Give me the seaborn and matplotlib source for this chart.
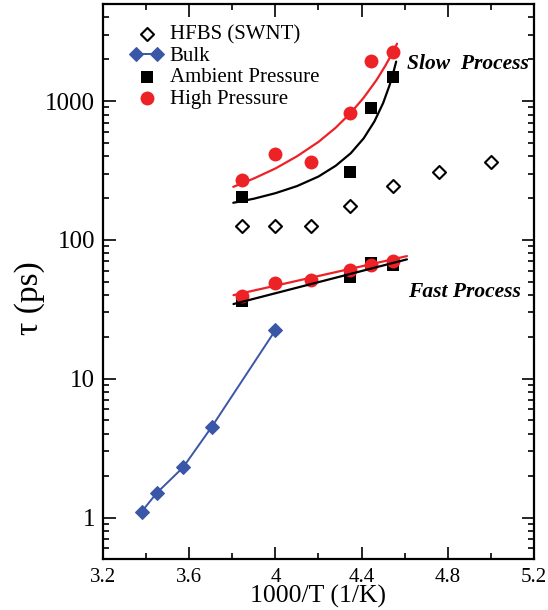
import numpy as np
import pandas as pd
import matplotlib
matplotlib.use("Agg")
import matplotlib.pyplot as plt
import matplotlib.ticker as mticker
from matplotlib.legend_handler import HandlerLine2D
import seaborn as sns

# x = 1000/T (1/K), tau in ps
hfbs_x = [3.846, 4.0, 4.167, 4.348, 4.545, 4.762, 5.0]
hfbs_tau = [126, 126, 126, 175, 245, 306, 364]

bulk_x = [3.378, 3.448, 3.571, 3.704, 4.0]
bulk_tau = [1.1, 1.5, 2.3, 4.5, 22.4]

amb_slow_x = [3.846, 4.348, 4.444, 4.545]
amb_slow_tau = [205, 310, 890, 1500]
hp_slow_x = [3.846, 4.0, 4.167, 4.348, 4.444, 4.545]
hp_slow_tau = [272, 413, 362, 816, 1940, 2250]

amb_fast_x = [3.846, 4.348, 4.444, 4.545]
amb_fast_tau = [36.4, 54.2, 67.7, 65.9]
hp_fast_x = [3.846, 4.0, 4.167, 4.348, 4.444, 4.545]
hp_fast_tau = [39.6, 49.1, 51.4, 60.6, 65.9, 70.8]

# fitted curves
amb_slow_fit_x = [3.804, 3.90, 4.00, 4.10, 4.20, 4.28, 4.35, 4.41, 4.46, 4.50, 4.53, 4.545, 4.561]
amb_slow_fit_tau = [185, 198, 217, 244, 286, 342, 421, 539, 714, 965, 1296, 1547, 1925]
hp_slow_fit_x = [3.804, 3.90, 4.00, 4.10, 4.20, 4.28, 4.35, 4.41, 4.47, 4.51, 4.54, 4.565]
hp_slow_fit_tau = [241, 277, 327, 400, 508, 643, 823, 1057, 1420, 1790, 2170, 2590]
amb_fast_fit_x = [3.805, 4.611]
amb_fast_fit_tau = [34.5, 72.4]
hp_fast_fit_x = [3.805, 4.611]
hp_fast_fit_tau = [40.0, 76.4]

RED = "#ec2227"
BLUE = "#3a56a6"

sns.set_style("ticks")
plt.rcParams["font.family"] = ["Liberation Serif", "DejaVu Serif"]
plt.rcParams["text.color"] = "black"
plt.rcParams["axes.labelcolor"] = "black"
plt.rcParams["xtick.color"] = "black"
plt.rcParams["ytick.color"] = "black"

fig = plt.figure(figsize=(5.48, 6.10), dpi=100)
ax = fig.add_axes([0.1885, 0.0831, 0.7854, 0.9103])

sns.scatterplot(x=hfbs_x, y=hfbs_tau, ax=ax, marker="D", s=44, color="white",
                edgecolor="black", linewidth=1.5, label="HFBS (SWNT)", zorder=3)
sns.lineplot(x=bulk_x, y=bulk_tau, ax=ax, marker="D", markersize=7, color=BLUE,
             markeredgecolor=BLUE, linewidth=1.4, label="Bulk", zorder=3)
sns.scatterplot(x=amb_slow_x, y=amb_slow_tau, ax=ax, marker="s", s=64, color="black",
                edgecolor="black", linewidth=0, label="Ambient Pressure", zorder=3)
sns.scatterplot(x=hp_slow_x, y=hp_slow_tau, ax=ax, marker="o", s=100, color=RED,
                edgecolor=RED, linewidth=0, label="High Pressure", zorder=4)
sns.scatterplot(x=amb_fast_x, y=amb_fast_tau, ax=ax, marker="s", s=64, color="black",
                edgecolor="black", linewidth=0, zorder=3)
sns.scatterplot(x=hp_fast_x, y=hp_fast_tau, ax=ax, marker="o", s=100, color=RED,
                edgecolor=RED, linewidth=0, zorder=4)

for fx, fy, c in [(amb_slow_fit_x, amb_slow_fit_tau, "black"),
                  (hp_slow_fit_x, hp_slow_fit_tau, RED),
                  (amb_fast_fit_x, amb_fast_fit_tau, "black"),
                  (hp_fast_fit_x, hp_fast_fit_tau, RED)]:
    sns.lineplot(x=fx, y=fy, ax=ax, color=c, linewidth=1.6, sort=False,
                 estimator=None, zorder=5)

ax.set_yscale("log")
ax.set_xlim(3.2, 5.2)
ax.set_ylim(0.5, 5000)

ax.xaxis.set_major_locator(mticker.MultipleLocator(0.4))
ax.xaxis.set_minor_locator(mticker.MultipleLocator(0.2))
ax.xaxis.set_major_formatter(mticker.FuncFormatter(lambda v, p: "%g" % round(v, 2)))
ax.yaxis.set_major_locator(mticker.LogLocator(base=10, numticks=10))
ax.yaxis.set_minor_locator(mticker.LogLocator(base=10, subs=np.arange(2, 10), numticks=10))
ax.yaxis.set_major_formatter(mticker.FuncFormatter(lambda v, p: "%g" % v))
ax.yaxis.set_minor_formatter(mticker.NullFormatter())

ax.tick_params(which="both", direction="in", top=True, right=True, width=1.2, colors="black")
ax.tick_params(which="major", length=9)
ax.tick_params(which="minor", length=4.5)
ax.tick_params(axis="x", which="major", labelsize=15, pad=6)
ax.tick_params(axis="y", which="major", labelsize=18, pad=6)
for sp in ax.spines.values():
    sp.set_linewidth(1.6)
    sp.set_color("black")

ax.set_xlabel("1000/T (1/K)", fontsize=18.5, labelpad=-1)
ax.set_ylabel("τ (ps)", fontsize=24)
ax.yaxis.set_label_coords(-0.135, 0.47)

ax.text(4.612, 1850, "Slow  Process", fontsize=15.5, fontweight="bold",
        fontstyle="italic", ha="left", va="center")
ax.text(4.616, 42.3, "Fast Process", fontsize=15.5, fontweight="bold",
        fontstyle="italic", ha="left", va="center")

handles, labels = ax.get_legend_handles_labels()
order = ["HFBS (SWNT)", "Bulk", "Ambient Pressure", "High Pressure"]
hmap = dict(zip(labels, handles))
bulk_h = hmap["Bulk"]
leg = ax.legend([hmap[k] for k in order], order, loc="upper left",
                bbox_to_anchor=(0.028, 0.988), frameon=False, fontsize=15,
                handlelength=1.6, handletextpad=0.3, labelspacing=0.08,
                borderaxespad=0.3, scatterpoints=1,
                handler_map={bulk_h: HandlerLine2D(numpoints=2)})

fig.savefig("out.png", dpi=100)
